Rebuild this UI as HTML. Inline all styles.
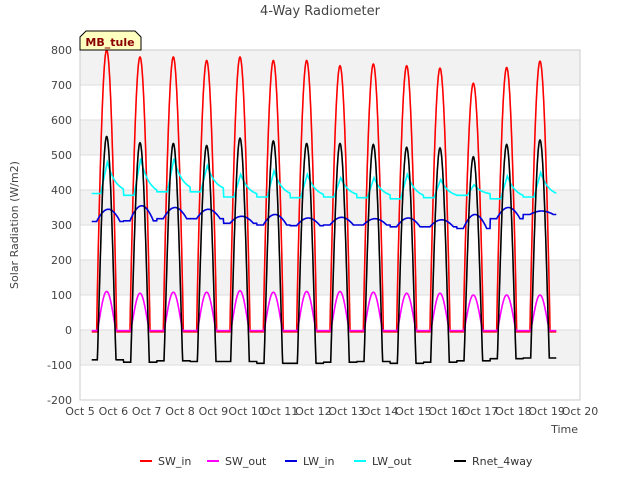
<!DOCTYPE html>
<html><head><meta charset="utf-8"><style>
body{margin:0;background:#fff;font-family:"Liberation Sans","DejaVu Sans",sans-serif;}
svg text{font-family:"DejaVu Sans","Liberation Sans",sans-serif;}
</style></head><body>
<svg id="c" width="640" height="480" xmlns="http://www.w3.org/2000/svg">
<text x="320" y="15" text-anchor="middle" font-size="13" fill="#444">4-Way Radiometer</text>
<g id="bands"></g><g id="grid"></g>
<rect x="80" y="50" width="500" height="350" fill="none" stroke="#ccc"/>
<g id="series"></g><g id="axes"></g>
<text x="18" y="225" transform="rotate(-90 18 225)" text-anchor="middle" font-size="11" fill="#444">Solar Radiation (W/m2)</text>
<text x="578" y="433" text-anchor="end" font-size="11" fill="#444">Time</text>
<g><path d="M80,50 L80,37 L86,31 L135,31 L141,37 L141,50 Z" fill="#ffffc0" stroke="#000"/><text x="110" y="46" text-anchor="middle" font-size="11" font-weight="bold" fill="#8b0000">MB_tule</text></g>
<g id="legend"></g>
</svg>
<script>
const yTicks=[-200,-100,0,100,200,300,400,500,600,700,800];
const xTickLabels=["Oct 5","Oct 6","Oct 7","Oct 8","Oct 9","Oct 10","Oct 11","Oct 12","Oct 13","Oct 14","Oct 15","Oct 16","Oct 17","Oct 18","Oct 19","Oct 20"];
const swInPeak=[800,780,780,770,780,770,770,755,760,755,748,705,750,768];
const swOutPeak=[110,105,108,108,112,108,110,110,108,105,105,100,100,100];
const lwInBase=[310,312,318,318,305,300,298,300,300,295,295,290,318,330];
const lwInPeak=[345,355,350,345,325,330,320,322,318,320,315,330,350,340];
const lwOutBase=[390,385,395,395,380,380,378,380,378,375,378,385,375,380];
const lwOutPeak=[480,490,490,470,445,455,445,435,435,445,430,415,440,450];
const rnetPeak=[553,535,533,527,548,540,533,533,530,522,520,495,530,543];
const rnetNight=[-85,-92,-88,-90,-90,-95,-95,-92,-90,-95,-92,-88,-82,-80];
const NS="http://www.w3.org/2000/svg";
function X(d){return 80+(d-5)*500/15;}
function Y(v){return 330-v*0.35;}
function el(t,a,p){const e=document.createElementNS(NS,t);for(const k in a)e.setAttribute(k,a[k]);p.appendChild(e);return e;}
const bands=document.getElementById('bands'),grid=document.getElementById('grid'),axes=document.getElementById('axes');
for(let i=0;i<yTicks.length-1;i++){if(i%2==1){const b=el('rect',{x:80,y:Y(yTicks[i+1]),width:500,height:Y(yTicks[i])-Y(yTicks[i+1]),fill:'#f2f2f2'},bands);

}}
yTicks.forEach(v=>{const l=el('line',{x1:80,x2:580,y1:Y(v),y2:Y(v),stroke:'#ddd'},grid);


const t=el('text',{x:72,y:Y(v)+4,'text-anchor':'end','font-size':11,fill:'#444'},axes);t.textContent=v;

});
xTickLabels.forEach((s,i)=>{const t=el('text',{x:X(5+i),y:415,'text-anchor':'middle','font-size':11,fill:'#444'},axes);t.textContent=s;

});
function shape(t,i,w){const s=(t-(5.8+i))/w;return Math.abs(s)<1?Math.pow(Math.cos(s*Math.PI/2),0.9):0;}
function idx(t){return Math.max(0,Math.min(13,Math.round(t-5.8)));}
const fns={
SW_in:t=>{const i=idx(t),s=shape(t,i,0.3);return s>0?swInPeak[i]*s:-5;},
SW_out:t=>{const i=idx(t),s=shape(t,i,0.28);return s>0?swOutPeak[i]*Math.pow(s,1.3):-2;},
LW_in:t=>{const i=idx(t);const s=shape(t-0.05,i,0.35);return lwInBase[i]+(lwInPeak[i]-lwInBase[i])*s;},
LW_out:t=>{const i=idx(t);const d=t-(5.82+i);let s=d<0?Math.max(0,1+d/0.2):Math.exp(-d/0.25);return lwOutBase[i]+(lwOutPeak[i]-lwOutBase[i])*s;},
Rnet_4way:t=>{const i=idx(t),s=shape(t,i,0.28);return rnetNight[i]+(rnetPeak[i]-rnetNight[i])*Math.pow(s,1.2);}
};
const colors={SW_in:'#ff0000',SW_out:'#ff00ff',LW_in:'#0000dd',LW_out:'#00ffff',Rnet_4way:'#000000'};
const ser=document.getElementById('series');
['SW_in','SW_out','LW_in','LW_out','Rnet_4way'].forEach(k=>{let d='';for(let t=5.35;t<=19.3;t+=0.01){d+=(d?'L':'M')+X(t).toFixed(1)+','+Y(fns[k](t)).toFixed(1);}
const p=el('path',{d:d,fill:'none',stroke:colors[k],'stroke-width':1.6},ser);

});
const leg=document.getElementById('legend');
[['SW_in',140],['SW_out',207],['LW_in',285],['LW_out',354],['Rnet_4way',454]].forEach(([k,x])=>{const g=el('g',{},leg);


el('line',{x1:x,x2:x+12,y1:461,y2:461,stroke:colors[k],'stroke-width':2},g);
const t=el('text',{x:x+18,y:465,'font-size':11,fill:'#333'},g);t.textContent=k;});
</script>
</body></html>
